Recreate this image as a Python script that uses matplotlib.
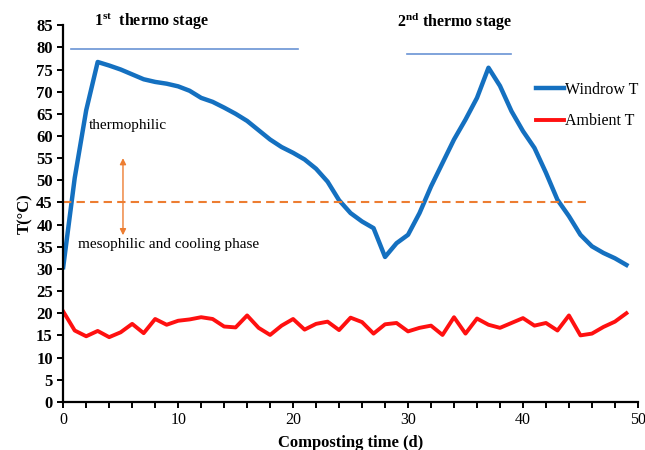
import matplotlib
matplotlib.use("Agg")
import matplotlib.pyplot as plt
from matplotlib.ticker import MultipleLocator
from matplotlib.lines import Line2D

plt.rcParams['font.family'] = ['Liberation Serif', 'DejaVu Serif']
plt.rcParams['mathtext.fontset'] = 'custom'
plt.rcParams['mathtext.rm'] = 'Liberation Serif'
plt.rcParams['mathtext.bf'] = 'Liberation Serif:bold'

days = list(range(50))
windrow_t = [30.4, 50.5, 65.8, 76.7, 75.9, 75.0, 73.9, 72.8, 72.2, 71.8,
             71.2, 70.2, 68.6, 67.7, 66.4, 65.0, 63.4, 61.3, 59.2, 57.5,
             56.2, 54.7, 52.6, 49.7, 45.5, 42.6, 40.7, 39.2, 32.7, 35.8,
             37.7, 42.6, 48.6, 53.9, 59.2, 63.7, 68.6, 75.4, 71.3, 65.6,
             61.1, 57.3, 51.7, 45.6, 41.9, 37.7, 35.1, 33.6, 32.4, 30.9]
ambient_t = [20.4, 16.1, 14.8, 16.0, 14.6, 15.7, 17.6, 15.5, 18.7, 17.4,
             18.3, 18.6, 19.1, 18.7, 17.0, 16.8, 19.5, 16.7, 15.1, 17.2,
             18.7, 16.3, 17.6, 18.1, 16.2, 19.0, 18.0, 15.4, 17.5, 17.8,
             15.9, 16.7, 17.2, 15.1, 19.1, 15.4, 18.8, 17.4, 16.7, 17.8,
             18.9, 17.2, 17.8, 16.1, 19.5, 15.0, 15.4, 16.9, 18.1, 20.0]
threshold = 45
stage1 = (0.7, 20.4, 79.6)
stage2 = (29.9, 39.0, 78.4)

fig = plt.figure(figsize=(6.45, 4.5), dpi=100)
ax = fig.add_axes([0.098, 0.107, 0.891, 0.837])

blue = '#1470C0'
red = '#FF1010'
orange = '#ED7D31'
stage_c = '#6A93D4'

ax.plot(days, windrow_t, color=blue, lw=3.2, solid_joinstyle='round')
ax.plot(days, ambient_t, color=red, lw=2.8, solid_joinstyle='round')
ax.plot([0, 45.6], [threshold, threshold], color=orange, lw=1.5, ls=(0, (4, 2.5)))
ax.plot(stage1[:2], [stage1[2]] * 2, color=stage_c, lw=1.2)
ax.plot(stage2[:2], [stage2[2]] * 2, color=stage_c, lw=1.2)

ax.annotate('', xy=(5.2, 55.0), xytext=(5.2, 37.6),
            arrowprops=dict(arrowstyle='<|-|>', color=orange, lw=1.0,
                            mutation_scale=9, shrinkA=0, shrinkB=0))

ax.text(7.7, 85.9, r'1$^{\mathbf{st}}$  thermo stage', ha='center', va='center',
        fontsize=11.5, fontweight='bold', clip_on=False)
ax.text(34.0, 85.9, r'2$^{\mathbf{nd}}$ thermo stage', ha='center', va='center',
        fontsize=11.5, fontweight='bold', clip_on=False)
ax.text(2.2, 62.4, 'thermophilic', ha='left', va='center', fontsize=11)
ax.text(1.3, 35.6, 'mesophilic and cooling phase', ha='left', va='center', fontsize=11)

handles = [Line2D([], [], color=blue, lw=3.2), Line2D([], [], color=red, lw=2.8)]
ax.legend(handles, ['Windrow T', 'Ambient T'], loc='upper left',
          bbox_to_anchor=(0.822, 0.849), frameon=False, fontsize=11.5,
          handlelength=1.8, handletextpad=0.05, labelspacing=0.95,
          borderpad=0, borderaxespad=0)

ax.set_xlim(0, 50)
ax.set_ylim(0, 85)
ax.xaxis.set_major_locator(MultipleLocator(10))
ax.xaxis.set_minor_locator(MultipleLocator(2))
ax.yaxis.set_major_locator(MultipleLocator(5))
for s in ['top', 'right']:
    ax.spines[s].set_visible(False)
for s in ['left', 'bottom']:
    ax.spines[s].set_linewidth(1.6)
ax.tick_params(axis='both', which='major', direction='out', length=4, width=1.4)
ax.tick_params(axis='x', which='major', labelsize=11.5)
ax.tick_params(axis='y', which='major', labelsize=12)
ax.tick_params(axis='x', which='minor', direction='out', length=4, width=1.4)
for lab in ax.get_yticklabels():
    lab.set_fontweight('bold')
ax.set_xlabel('Composting time (d)', fontsize=12, fontweight='bold', labelpad=5)
ax.set_ylabel('T(°C)', fontsize=12, fontweight='bold', labelpad=2)

fig.savefig('out.png', dpi=100)
